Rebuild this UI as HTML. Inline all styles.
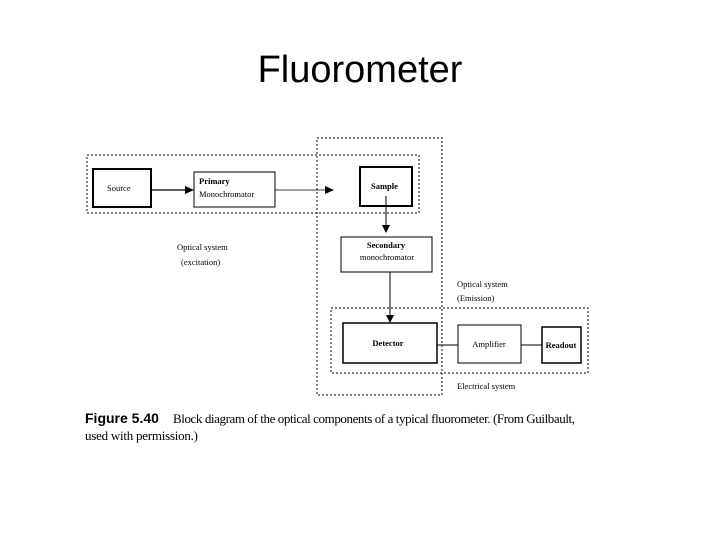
<!DOCTYPE html>
<html><head><style>
html,body{margin:0;padding:0;background:#fff;width:720px;height:540px;overflow:hidden}
</style></head><body>
<svg width="720" height="540" xmlns="http://www.w3.org/2000/svg" font-family="Liberation Serif, serif" fill="#000">
<text x="360" y="82" font-family="Liberation Sans, sans-serif" font-size="38" text-anchor="middle">Fluorometer</text>
<g fill="none" stroke="#333" stroke-width="1.2" stroke-dasharray="2,2">
<rect x="87" y="155" width="332" height="58"/>
<rect x="317" y="138" width="125" height="257"/>
<rect x="331" y="308" width="257" height="65"/>
</g>
<g fill="none" stroke="#000">
<rect x="93" y="169" width="58" height="38" stroke-width="2"/>
<rect x="194" y="172" width="81" height="35" stroke-width="1"/>
<rect x="360" y="167" width="52" height="39" stroke-width="2"/>
<rect x="341" y="237" width="91" height="35" stroke-width="1"/>
<rect x="343" y="323" width="94" height="40" stroke-width="1.5"/>
<rect x="458" y="325" width="63" height="38" stroke-width="1"/>
<rect x="542" y="327" width="39" height="36" stroke-width="1.5"/>
<line x1="151" y1="190" x2="186" y2="190" stroke-width="1.2"/>
<line x1="275" y1="190" x2="326" y2="190" stroke-width="0.8"/>
<line x1="386" y1="196" x2="386" y2="226" stroke-width="1"/>
<line x1="390" y1="272" x2="390" y2="316" stroke-width="1"/>
<line x1="437" y1="345" x2="458" y2="345"/>
<line x1="521" y1="345" x2="542" y2="345"/>
</g>
<polygon points="194,190 185,186 185,194"/>
<polygon points="334,190 325,186 325,194"/>
<polygon points="386,233 382,225 390,225"/>
<polygon points="390,323 386,315 394,315"/>
<g font-size="8.5">
<text x="107" y="191">Source</text>
<text x="199" y="184" font-weight="bold">Primary</text>
<text x="199" y="197">Monochromator</text>
<text x="371" y="189" font-weight="bold">Sample</text>
<text x="386" y="248" text-anchor="middle" font-weight="bold">Secondary</text>
<text x="387" y="260" text-anchor="middle">monochromator</text>
<text x="388" y="346" text-anchor="middle" font-weight="bold">Detector</text>
<text x="489" y="347" text-anchor="middle">Amplifier</text>
<text x="561" y="348" text-anchor="middle" font-weight="bold">Readout</text>
<text x="177" y="250">Optical system</text>
<text x="181" y="265">(excitation)</text>
<text x="457" y="287">Optical system</text>
<text x="457" y="301">(Emission)</text>
<text x="457" y="389">Electrical system</text>
</g>
<text x="85" y="423" font-family="Liberation Sans, sans-serif" font-size="14" font-weight="bold">Figure 5.40</text>
<text x="173" y="423" font-size="13" textLength="402">Block diagram of the optical components of a typical fluorometer. (From Guilbault,</text>
<text x="85" y="440" font-size="13" textLength="113">used with permission.)</text>
</svg>
</body></html>
